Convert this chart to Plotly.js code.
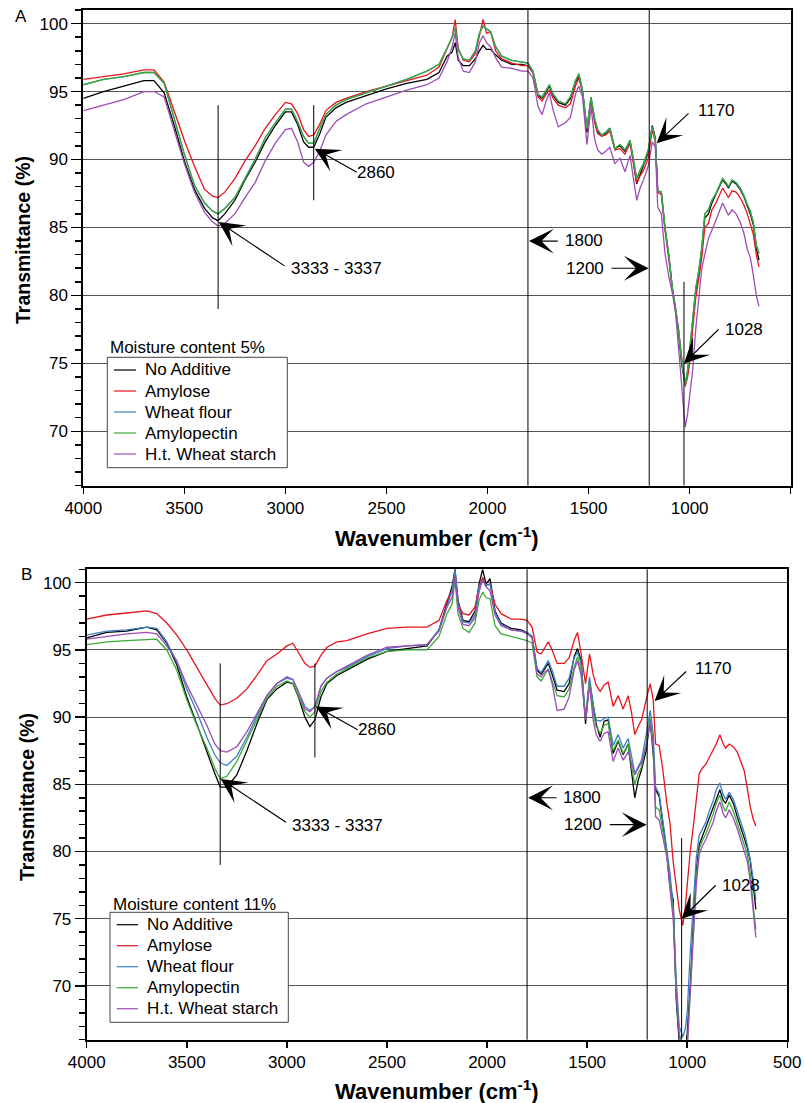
<!DOCTYPE html>
<html>
<head>
<meta charset="utf-8">
<script src="https://cdn.plot.ly/plotly-3.0.1.min.js"></script>
<style>
  html, body { margin: 0; padding: 0; background: #ffffff; }
  #chart { width: 804px; height: 1103px; }
</style>
</head>
<body>
<div id="chart"></div>
<script>
// ---------- data ----------
const wavenumber = [
  4000, 3900, 3800, 3700, 3650, 3600, 3550, 3500, 3450, 3400,
  3360, 3333, 3300, 3250, 3200, 3150, 3100, 3050, 3000, 2970,
  2940, 2910, 2885, 2860, 2830, 2800, 2750, 2700, 2600, 2500,
  2400, 2300, 2240, 2200, 2175, 2160, 2145, 2120, 2090, 2060,
  2040, 2022, 2005, 1985, 1960, 1930, 1880, 1830, 1800, 1775,
  1750, 1730, 1710, 1694, 1675, 1650, 1615, 1590, 1565, 1548,
  1530, 1508, 1488, 1470, 1455, 1435, 1415, 1395, 1370, 1345,
  1320, 1295, 1278, 1262, 1245, 1228, 1205, 1185, 1170, 1158,
  1140, 1122, 1102, 1086, 1070, 1055, 1040, 1022, 1010, 1000,
  985, 970, 955, 940, 925, 907, 890, 870, 855, 837,
  820, 808, 790, 770, 750, 730, 715, 700, 685, 670,
  657
];

const seriesNames = ["No Additive", "Amylose", "Wheat flour", "Amylopectin", "H.t. Wheat starch"];
const legendTitleA = "Moisture content 5%";
const legendTitleB = "Moisture content 11%";
const xTickValues = [4000, 3500, 3000, 2500, 2000, 1500, 1000, 500];

// Panel A – moisture content 5 %
const noAdditiveA = [
  94.5, 95.0, 95.4, 95.8, 95.8, 94.9, 92.5, 89.9, 87.8, 86.4,
  85.7, 85.5, 86.0, 87.0, 88.5, 89.8, 91.3, 92.5, 93.5, 93.5,
  92.6, 91.3, 90.9, 90.9, 91.9, 93.1, 93.8, 94.2, 94.7, 95.2,
  95.6, 95.9, 96.4, 97.6, 97.9, 98.6, 97.3, 96.9, 96.9, 97.4,
  98.0, 98.4, 98.1, 98.1, 97.7, 97.3, 97.0, 97.0, 96.9, 96.4,
  94.7, 94.5, 95.0, 95.4, 94.7, 94.2, 94.0, 94.5, 95.7, 96.1,
  95.0, 92.0, 94.5, 92.9, 92.0, 91.8, 91.9, 92.3, 90.8, 91.0,
  90.6, 91.4, 89.8, 88.2, 88.9, 89.6, 90.5, 92.5, 91.6, 87.7,
  87.6, 85.0, 82.8, 80.6, 79.0, 77.2, 75.0, 73.4, 74.4, 75.5,
  78.0, 80.3, 81.6, 83.3, 85.7, 86.0, 86.8, 87.4, 87.9, 88.5,
  88.2, 87.9, 88.4, 88.2, 87.8, 87.2, 86.6, 86.0, 85.2, 83.5,
  82.6
];
const amyloseA = [
  95.9, 96.1, 96.3, 96.6, 96.6, 95.7, 93.6, 91.4, 89.5, 87.8,
  87.3, 87.2, 87.6, 88.6, 89.9, 91.0, 92.3, 93.3, 94.2, 94.1,
  93.4, 92.2, 91.7, 91.8, 92.6, 93.6, 94.2, 94.5, 95.0, 95.4,
  95.8, 96.2, 96.8, 98.2, 99.0, 100.3, 98.2, 97.3, 97.2, 97.8,
  99.0, 100.3, 99.3, 99.4, 98.0, 97.4, 97.1, 96.9, 96.9, 96.4,
  94.6, 94.3, 94.8, 95.1, 94.5, 94.0, 93.8, 94.1, 95.4, 96.0,
  95.0, 92.2, 94.4, 92.7, 91.9, 91.7, 91.8, 92.1, 90.7, 90.8,
  90.4, 91.2, 89.7, 88.3, 88.8, 89.2, 90.1, 92.2, 91.3, 87.6,
  87.4, 84.8, 82.5, 80.5, 79.0, 77.5, 75.5, 73.3, 74.0, 75.0,
  77.5, 79.8, 81.2, 82.8, 85.0, 85.3, 86.3, 86.8, 87.3, 87.9,
  87.5, 87.2, 87.7, 87.6, 87.2, 86.6, 86.0, 85.3, 84.5, 83.0,
  82.1
];
const amylopectinA = [
  95.5, 95.9, 96.1, 96.4, 96.4, 95.6, 93.0, 90.4, 88.1, 86.8,
  86.2, 86.0, 86.4, 87.2, 88.6, 90.0, 91.6, 92.7, 93.7, 93.7,
  92.8, 91.7, 91.2, 91.2, 92.3, 93.3, 94.0, 94.4, 94.9, 95.4,
  95.9, 96.5, 97.0, 98.2, 99.0, 99.7, 98.1, 97.4, 97.3, 98.0,
  99.3, 99.8, 99.6, 99.4, 98.3, 97.6, 97.3, 97.2, 97.1, 96.5,
  94.8, 94.6, 95.1, 95.5, 94.8, 94.3, 94.1, 94.6, 95.8, 96.3,
  95.1, 92.3, 94.6, 93.0, 92.2, 91.8, 92.0, 92.3, 90.8, 91.1,
  90.7, 91.4, 90.0, 88.6, 89.2, 89.7, 90.7, 92.4, 91.5, 87.7,
  87.6, 85.0, 82.8, 80.6, 79.1, 77.5, 75.3, 73.4, 74.5, 75.8,
  78.2, 80.5, 81.8, 83.5, 86.0, 86.3, 87.0, 87.5, 88.0, 88.6,
  88.3, 88.0, 88.5, 88.3, 87.9, 87.3, 86.7, 86.2, 85.4, 83.7,
  83.1
];
// Wheat flour is hidden under the Amylopectin trace in panel A
const wheatFlourA = amylopectinA;
const heatTreatedA = [
  93.6, 94.0, 94.4, 95.0, 95.0, 94.6, 92.2, 89.7, 87.6, 86.1,
  85.4, 85.1, 85.3, 86.0, 87.2, 88.3, 89.9, 91.2, 92.2, 92.3,
  91.3, 89.8, 89.5, 89.8, 90.6, 91.8, 92.8, 93.3, 94.1, 94.6,
  95.1, 95.5, 96.0, 97.2, 98.3, 99.3, 97.5, 96.5, 96.4, 97.2,
  98.6, 99.1, 98.6, 98.3, 97.5, 96.8, 96.7, 96.5, 96.5, 96.0,
  93.9, 93.3, 94.3, 94.9, 93.6, 92.4, 92.7, 93.1, 94.8, 95.4,
  94.6, 91.1, 93.9, 91.5, 90.7, 90.4, 90.6, 90.9, 89.7, 90.1,
  89.1, 90.3, 88.5, 87.0, 87.9, 88.5, 89.5, 91.3, 90.9, 86.5,
  86.0, 83.1, 81.3, 80.2, 78.8, 76.0, 73.3, 70.3, 71.3, 72.5,
  74.5, 77.5, 80.0, 82.0, 83.0, 84.2, 84.8, 85.5, 86.1, 86.8,
  86.3, 85.9, 86.3, 86.0, 85.4, 84.5, 83.4, 82.8, 81.5, 80.0,
  79.2
];

// Panel B – moisture content 11 %
const noAdditiveB = [
  95.9, 96.3, 96.4, 96.7, 96.5, 95.5, 93.9, 91.5, 89.5, 87.4,
  85.8, 84.8, 84.8, 85.7, 87.5, 89.5, 91.3, 92.1, 92.6, 92.5,
  91.4, 90.0, 89.3, 89.8, 91.5, 92.5, 93.1, 93.5, 94.3, 94.9,
  95.1, 95.3, 96.5, 98.4, 99.7, 101.0, 98.7, 97.2, 97.1, 97.9,
  99.9, 101.0, 99.9, 100.3, 97.9, 97.0, 96.6, 96.5, 96.3, 96.0,
  93.5, 93.2, 93.7, 94.0, 93.2, 92.0, 91.9, 92.5, 94.5, 95.1,
  94.2, 89.5, 92.7, 90.8, 89.5, 88.5, 89.7, 89.8, 87.3, 88.2,
  87.2, 88.0, 86.1, 84.0, 85.3, 86.1, 87.5, 89.8, 87.3, 84.6,
  84.1, 82.1, 79.9, 77.4, 76.4, 69.0, 65.8, 64.8, 65.0, 66.5,
  70.0, 74.5, 78.5, 80.5, 81.1, 81.8, 82.6, 83.3, 84.0, 84.6,
  83.8, 83.6, 84.2, 83.6, 82.6, 81.6, 81.0, 80.3, 79.3, 77.5,
  75.7
];
const amyloseB = [
  97.3, 97.6, 97.75, 97.9, 97.7, 97.0, 96.1, 95.0, 93.7, 92.4,
  91.4, 90.9, 91.0, 91.4, 92.1, 93.1, 94.2, 94.7, 95.3, 95.5,
  94.7, 94.0, 93.7, 93.8, 94.6, 95.2, 95.6, 95.7, 96.2, 96.6,
  96.7, 96.7, 97.2, 98.7, 99.4, 100.7, 98.4, 97.7, 97.6, 98.2,
  99.7, 100.4, 99.8, 99.9, 98.4, 97.7, 97.3, 97.3, 97.2, 96.7,
  94.85, 94.7, 95.2, 95.6, 95.0, 94.0, 94.0, 94.4, 95.7, 96.3,
  94.7, 92.5, 94.7, 93.2, 92.4, 91.9, 92.4, 92.6, 90.8, 91.6,
  90.6, 91.6, 90.3, 88.7, 89.3, 89.8, 91.3, 92.5, 91.3, 88.0,
  87.9, 86.1, 83.6, 82.1, 79.2, 77.5, 75.7, 74.5, 75.8, 77.5,
  80.0, 81.8, 84.0, 85.8, 86.2, 86.5, 87.0, 87.6, 88.0, 88.7,
  88.0, 87.7, 88.0, 87.8, 87.4, 86.6, 86.0, 84.7, 83.3, 82.4,
  81.9
];
const wheatFlourB = [
  96.1, 96.4, 96.5, 96.7, 96.6, 95.6, 94.1, 92.1, 90.4, 88.5,
  87.2, 86.6, 86.4, 87.1, 88.5, 90.1, 91.6, 92.5, 92.9, 92.8,
  91.8, 90.8, 90.5, 90.8, 92.3, 92.9, 93.4, 93.7, 94.5, 95.1,
  95.3, 95.4, 96.5, 98.2, 99.4, 101.0, 98.5, 97.1, 97.0, 97.6,
  99.7, 100.2, 99.8, 99.9, 97.8, 96.9, 96.5, 96.4, 96.3, 96.0,
  93.6, 93.3, 93.8, 94.2, 93.5, 92.3, 92.3, 92.9, 94.4, 94.85,
  94.0, 90.0, 93.0, 90.9, 89.8, 89.7, 89.9, 90.0, 87.9, 88.7,
  87.7, 88.4, 87.1, 85.8, 86.3, 86.8, 88.7, 90.5, 88.8, 84.8,
  84.3, 82.4, 80.1, 78.4, 75.9, 70.5, 67.0, 66.2, 66.8, 68.0,
  72.5, 76.0, 79.5, 81.2, 81.7, 82.2, 83.0, 83.8, 84.6, 85.1,
  84.2, 83.9, 84.4, 83.9, 83.0, 82.1, 81.4, 80.5, 79.4, 77.9,
  76.4
];
const amylopectinB = [
  95.4, 95.6, 95.7, 95.8, 95.8, 95.0, 93.5, 91.3, 89.4, 87.7,
  86.2, 85.4, 85.6, 86.7, 88.2, 89.8, 91.4, 92.3, 92.7, 92.5,
  91.5, 90.4, 90.0, 90.4, 91.9, 92.6, 93.2, 93.6, 94.4, 94.9,
  95.0, 95.0, 96.0, 97.7, 98.4, 100.2, 97.7, 96.6, 96.3, 97.0,
  98.7, 99.3, 98.9, 98.8, 96.8, 96.2, 96.0, 95.8, 95.7, 95.5,
  93.0, 92.7, 93.2, 93.6, 92.7, 91.6, 91.5, 92.1, 93.7, 94.5,
  93.5, 89.9, 92.6, 90.4, 89.3, 88.8, 89.4, 89.5, 87.5, 88.3,
  87.3, 88.0, 86.3, 85.0, 85.8, 86.3, 88.0, 90.0, 88.0, 83.3,
  83.1, 81.4, 79.8, 77.4, 75.5, 69.5, 66.5, 65.3, 64.9, 65.5,
  70.0, 74.0, 78.0, 80.2, 80.8, 81.3, 82.0, 82.8, 83.6, 84.2,
  83.3, 83.0, 83.7, 83.0, 82.1, 81.1, 80.5, 79.8, 78.4, 75.9,
  74.2
];
const heatTreatedB = [
  95.8, 96.0, 96.2, 96.3, 96.2, 95.3, 94.2, 92.4, 90.9, 89.4,
  88.0, 87.5, 87.4, 87.8, 88.9, 90.3, 91.6, 92.5, 93.0, 92.8,
  91.8, 90.6, 90.4, 90.8, 92.3, 92.9, 93.4, 93.8, 94.6, 95.2,
  95.3, 95.4, 96.4, 98.2, 98.9, 100.4, 98.2, 96.9, 96.8, 97.4,
  99.3, 100.2, 99.7, 99.4, 97.6, 96.8, 96.5, 96.4, 96.2, 95.9,
  93.2, 93.0, 93.4, 93.5, 92.5, 90.5, 90.6, 91.5, 93.5, 94.2,
  93.1, 89.8, 92.4, 89.8, 88.7, 88.2, 88.8, 88.9, 86.7, 87.7,
  86.8, 87.4, 86.6, 85.7, 86.2, 86.6, 87.9, 89.65, 87.8, 82.6,
  82.35, 81.1, 79.6, 77.2, 75.0, 69.5, 66.3, 65.2, 64.8, 65.3,
  69.0, 73.5, 77.5, 79.8, 80.4, 80.9, 81.5, 82.2, 83.0, 83.7,
  82.8, 82.5, 83.1, 82.5, 81.7, 80.7, 80.0, 79.3, 77.8, 75.4,
  73.6
];

// ---------- styling ----------
const colors = ["#000000", "#e8141c", "#3b7fc2", "#3aaa35", "#9b4db5"];
const FONT = "Liberation Sans, Arial, Helvetica, sans-serif";
const W = 804, H = 1103;
const px = v => v / W;
const py = v => 1 - v / H;

function makeTraces(seriesList, xa, ya) {
  return seriesList.map((vals, i) => ({
    type: "scatter",
    mode: "lines",
    x: wavenumber,
    y: vals,
    name: seriesNames[i],
    xaxis: xa,
    yaxis: ya,
    showlegend: false,
    line: { color: colors[i], width: 1.3 },
    hoverinfo: "skip"
  }));
}

const traces = []
  .concat(makeTraces([noAdditiveA, amyloseA, wheatFlourA, amylopectinA, heatTreatedA], "x", "y"))
  .concat(makeTraces([noAdditiveB, amyloseB, wheatFlourB, amylopectinB, heatTreatedB], "x2", "y2"));

function xAxisCfg(domain, anchor) {
  return {
    domain: domain, anchor: anchor,
    range: [4000, 500], autorange: false,
    tickmode: "array", tickvals: xTickValues, ticktext: xTickValues.map(String),
    ticks: "outside", ticklen: 6, tickwidth: 1.5, tickcolor: "#000",
    showline: true, linewidth: 2, linecolor: "#000", mirror: true,
    showgrid: false, zeroline: false,
    tickfont: { family: FONT, size: 17, color: "#000" }
  };
}
function yAxisCfg(domain, anchor) {
  return {
    domain: domain, anchor: anchor,
    range: [66, 101], autorange: false,
    tick0: 70, dtick: 5,
    ticks: "outside", ticklen: 10, tickwidth: 1.5, tickcolor: "#000",
    minor: { dtick: 1, tick0: 66, ticks: "outside", ticklen: 6, tickwidth: 1.5, tickcolor: "#000", showgrid: false },
    showline: true, linewidth: 2, linecolor: "#000", mirror: true,
    showgrid: true, gridcolor: "#555", gridwidth: 1,
    zeroline: false,
    tickfont: { family: FONT, size: 17, color: "#000" }
  };
}

function vline(xr, yr, x, y0, y1) {
  return { type: "line", xref: xr, yref: yr, x0: x, x1: x, y0: y0, y1: y1,
           line: { color: "#000", width: 1 } };
}
function vlineFull(xr, yr, x) {
  return { type: "line", xref: xr, yref: yr + " domain", x0: x, x1: x, y0: 0, y1: 1,
           line: { color: "#000", width: 1 } };
}

function panelShapes(xr, yr) {
  return [
    vlineFull(xr, yr, 1800),
    vlineFull(xr, yr, 1200),
    vline(xr, yr, 3333, 79, 94),
    vline(xr, yr, 2860, 87, 94),
    vline(xr, yr, 1028, 66, 81)
  ];
}

// hand-built legend box (box, sample lines) in pixel positions
function legendShapes(left, top, right, bottom, rowTop, lineX0, lineX1) {
  const s = [{
    type: "rect", xref: "paper", yref: "paper",
    x0: px(left), x1: px(right), y0: py(bottom), y1: py(top),
    fillcolor: "#ffffff", line: { color: "#444", width: 1 }
  }];
  seriesNames.forEach((n, i) => {
    const yy = rowTop + i * 21;
    s.push({ type: "line", xref: "paper", yref: "paper",
             x0: px(lineX0), x1: px(lineX1), y0: py(yy), y1: py(yy),
             line: { color: colors[i], width: 1.2 } });
  });
  return s;
}
function legendTexts(title, titleX, titleY, textX, rowTop) {
  const a = [paperText(title, px(titleX), py(titleY), 17, { xanchor: "left" })];
  seriesNames.forEach((n, i) => {
    a.push(paperText(n, px(textX), py(rowTop + i * 21), 17, { xanchor: "left" }));
  });
  return a;
}

function arrow(xr, yr, x, y, ax, ay) {
  return { xref: xr, yref: yr, axref: xr, ayref: yr, x: x, y: y, ax: ax, ay: ay,
           text: "", showarrow: true, arrowhead: 3, arrowsize: 3.6, arrowwidth: 1.15,
           arrowcolor: "#000", standoff: 0, startstandoff: 0 };
}
function label(xr, yr, txt, x, y) {
  return { xref: xr, yref: yr, x: x, y: y, text: txt, showarrow: false,
           xanchor: "center", yanchor: "middle",
           font: { family: FONT, size: 17, color: "#000" } };
}

function panelAnnotations(xr, yr) {
  return [
    arrow(xr, yr, 2855, 90.8, 2639, 89.0),
    arrow(xr, yr, 3330, 85.4, 2997, 82.1),
    arrow(xr, yr, 1163, 91.2, 998, 93.5),
    arrow(xr, yr, 1795, 84.0, 1645, 84.0),
    arrow(xr, yr, 1203, 82.0, 1394, 82.0),
    arrow(xr, yr, 1028, 75.0, 850, 77.6),
    label(xr, yr, "2860", 2552, 89.06),
    label(xr, yr, "3333 - 3337", 2745, 81.97),
    label(xr, yr, "1170", 869, 93.64),
    label(xr, yr, "1800", 1524, 84.03),
    label(xr, yr, "1200", 1520, 81.99),
    label(xr, yr, "1028", 731, 77.5)
  ];
}

function paperText(txt, x, y, size, opts) {
  return Object.assign({
    xref: "paper", yref: "paper", x: x, y: y, text: txt, showarrow: false,
    xanchor: "center", yanchor: "middle",
    font: { family: FONT, size: size, color: "#000" }
  }, opts || {});
}

const boldFont = s => ({ family: FONT, size: s, color: "#000", weight: "bold" });

const annotations = []
  .concat(panelAnnotations("x", "y"))
  .concat(panelAnnotations("x2", "y2"))
  .concat([
    paperText("A", px(21), py(17), 17),
    paperText("B", px(26), py(575), 17),
    paperText("Wavenumber (cm<sup>-1</sup>)", px(437), py(537), 22, { font: boldFont(22) }),
    paperText("Wavenumber (cm<sup>-1</sup>)", px(437), py(1090), 22, { font: boldFont(22) }),
    paperText("Transmittance (%)", px(23), py(240), 19, { textangle: -90, font: boldFont(19.5) }),
    paperText("Transmittance (%)", px(27), py(797), 19, { textangle: -90, font: boldFont(19.5) })
  ])
  .concat(legendTexts(legendTitleA, 108, 347.5, 142.7, 370))
  .concat(legendTexts(legendTitleB, 110.5, 904, 145, 924.7));

const layout = {
  width: W, height: H,
  margin: { l: 0, r: 0, t: 0, b: 0, pad: 0 },
  paper_bgcolor: "#ffffff", plot_bgcolor: "#ffffff",
  font: { family: FONT, size: 17, color: "#000" },
  showlegend: false,
  xaxis: xAxisCfg([83.3 / W, 790.7 / W], "y"),
  yaxis: yAxisCfg([1 - 485.7 / H, 1 - 10 / H], "x"),
  xaxis2: xAxisCfg([86.7 / W, 787.3 / W], "y2"),
  yaxis2: yAxisCfg([1 - 1039.7 / H, 1 - 569.3 / H], "x2"),
  shapes: panelShapes("x", "y").concat(panelShapes("x2", "y2"))
    .concat(legendShapes(107.3, 357.3, 287.3, 467.7, 370, 114, 136))
    .concat(legendShapes(110, 912.3, 288.3, 1022.3, 924.7, 116.7, 138)),
  annotations: annotations,
  hovermode: false
};

Plotly.newPlot("chart", traces, layout, { staticPlot: true, displayModeBar: false });
</script>
</body>
</html>
